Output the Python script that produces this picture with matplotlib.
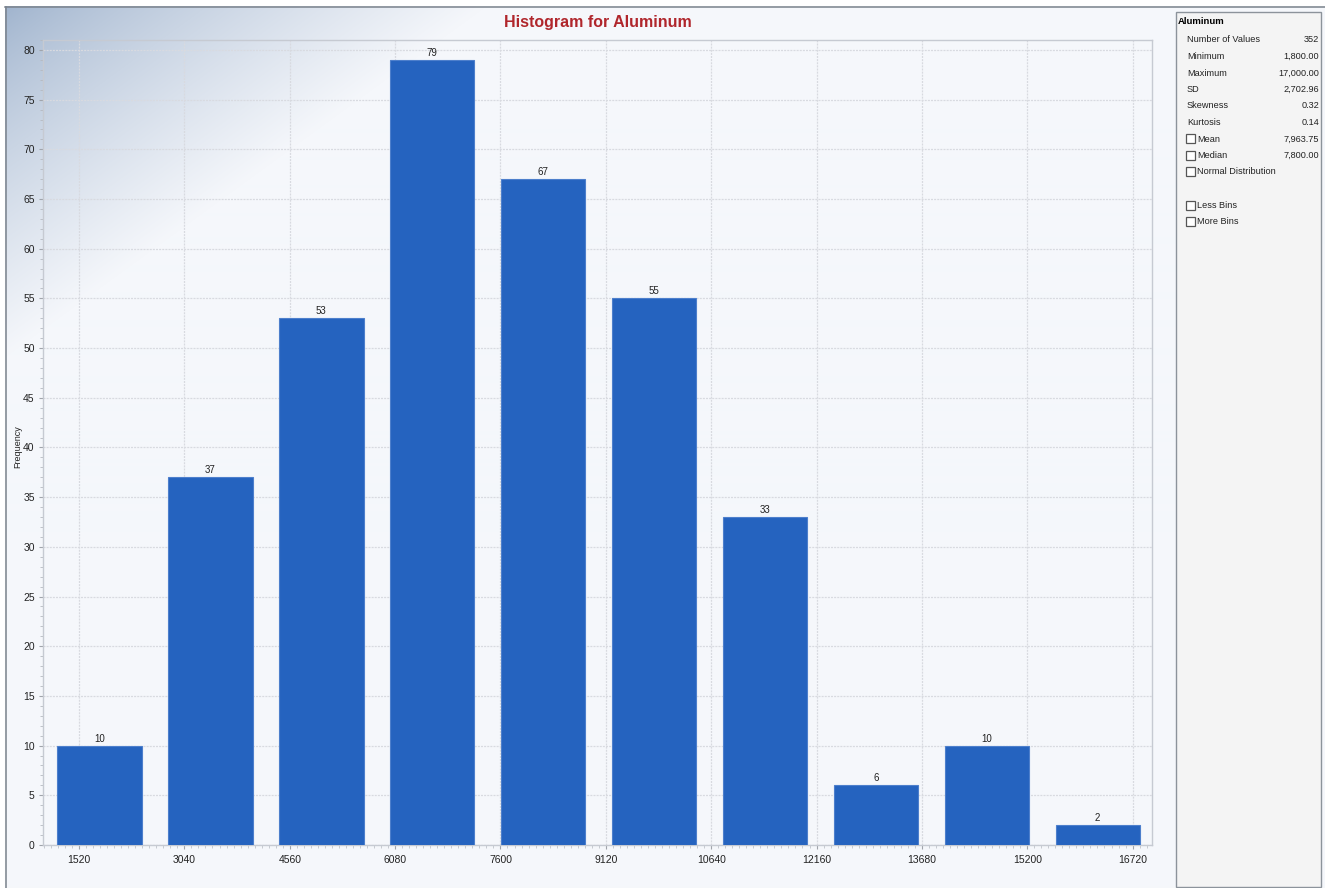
import numpy as np
import matplotlib
matplotlib.use("Agg")
import matplotlib.pyplot as plt
from matplotlib.ticker import MultipleLocator
from matplotlib.patches import Rectangle
from matplotlib.colors import to_rgb

# ---------------- data ----------------
bin_counts = [10, 37, 53, 79, 67, 55, 33, 6, 10, 2]
tick_values = [1520, 3040, 4560, 6080, 7600, 9120, 10640, 12160, 13680, 15200, 16720]
title_text = "Histogram for Aluminum"
stat_group = "Aluminum"
stat_labels = ["Number of Values", "Minimum", "Maximum", "SD", "Skewness", "Kurtosis"]
stat_values = ["352", "1,800.00", "17,000.00", "2,702.96", "0.32", "0.14"]
check_labels = ["Mean", "Median", "Normal Distribution"]
check_values = ["7,963.75", "7,800.00", ""]
bin_options = ["Less Bins", "More Bins"]

W, H = 1325, 888
NARROW = ['Liberation Sans Narrow', 'Liberation Sans', 'DejaVu Sans']
SANS = ['Liberation Sans', 'DejaVu Sans']
GRID_KW = dict(color='#d8dae0', linestyle=(0, (1.6, 0.9)), lw=0.9)

fig = plt.figure(figsize=(W / 100, H / 100), dpi=100)
fig.patch.set_facecolor('white')

# ---------------- background (pixel coords) ----------------
bg = fig.add_axes([0, 0, 1, 1], zorder=-5)
bg.set_xlim(0, W)
bg.set_ylim(H, 0)
bg.axis('off')

yy, xx = np.mgrid[0:H, 0:W].astype(float)
corner = np.array(to_rgb('#9fb3cd'))
base = np.array(to_rgb('#f5f7fb'))
t = np.clip((xx - 5) / 480 + (yy - 7) / 350, 0, 1) ** 0.8
img = corner[None, None, :] + (base - corner)[None, None, :] * t[..., None]
mask = (xx >= 5) & (yy >= 7)
img[~mask] = 1.0
bg.imshow(img, extent=(0, W, H, 0), aspect='auto', interpolation='bilinear')
# window frame lines
bg.plot([5, W], [7.5, 7.5], color='#7a828c', lw=1.1)
bg.plot([5.5, 5.5], [7, H], color='#7a828c', lw=1.1)

# right statistics panel
bg.add_patch(Rectangle((1175.5, 12.5), 145.5, 874, facecolor='#f4f4f4',
                       edgecolor='#8c939b', lw=1))

# ---------------- main chart ----------------
left, right = 43 / W, 1152 / W
bottom, top = (H - 845) / H, (H - 40) / H
ax = fig.add_axes([left, bottom, right - left, top - bottom], zorder=2)
ax.patch.set_alpha(0)

x = np.arange(len(bin_counts))
bars = ax.bar(x + 0.01, bin_counts, width=0.76, color='#2563bf',
              edgecolor='#4d7fcc', linewidth=0.8, zorder=3)
for xi, c in zip(x, bin_counts):
    ax.annotate(str(c), (xi + 0.01, c), xytext=(0, 1.5), textcoords='offset points',
                ha='center', va='bottom', fontsize=7, color='#222222',
                family=NARROW, zorder=4)

ax.set_xlim(-0.5, len(bin_counts) - 0.5)
ax.set_ylim(0, 81)
ax.set_xticks([])
ax.yaxis.set_major_locator(MultipleLocator(5))
ax.yaxis.set_minor_locator(MultipleLocator(1))
ax.tick_params(axis='y', which='major', length=3, color='#a0a4ab', pad=3,
               labelsize=7.5, labelcolor='#222222')
ax.tick_params(axis='y', which='minor', length=2.5, color='#b5b9c0')
for lab in ax.get_yticklabels():
    lab.set_family(NARROW)
ax.set_axisbelow(True)
ax.grid(axis='y', which='major', **GRID_KW)
for s in ax.spines.values():
    s.set_color('#c6cad2')
    s.set_linewidth(1)

# value axis for tick labels
ax2 = ax.twiny()
ax2.set_zorder(ax.get_zorder() - 1)
ax2.patch.set_alpha(0)
ax2.set_xlim(1000, 17000)
ax2.xaxis.set_ticks_position('bottom')
ax2.xaxis.set_label_position('bottom')
ax2.set_xticks(tick_values)
ax2.set_xticklabels([str(v) for v in tick_values])
ax2.xaxis.set_minor_locator(MultipleLocator(1520 / 15))
ax2.tick_params(axis='x', which='major', length=3, color='#a0a4ab', pad=4,
                labelsize=7.5, labelcolor='#222222')
ax2.tick_params(axis='x', which='minor', length=2.5, color='#bfc3c9')
for lab in ax2.get_xticklabels():
    lab.set_family(NARROW)
ax2.grid(axis='x', which='major', **GRID_KW)
for s in ax2.spines.values():
    s.set_visible(False)

# y label
fig.text(18 / W, 1 - 447 / H, 'Frequency', rotation=90, ha='center', va='center',
         fontsize=6.5, color='#222222', family=NARROW)

# title
fig.text(598 / W, 1 - 23 / H, title_text, ha='center', va='center',
         fontsize=11.5, fontweight='bold', color='#b0262c', family=SANS)

# ---------------- statistics panel text ----------------
def px(xp, yp):
    return xp / W, 1 - yp / H

fig.text(*px(1178, 22), stat_group, ha='left', va='center', fontsize=6.8,
         fontweight='bold', color='black', family=SANS)
row_y = 40
step = 16.5
for lab, val in zip(stat_labels, stat_values):
    fig.text(*px(1187, row_y), lab, ha='left', va='center', fontsize=6.6,
             color='#222222', family=NARROW)
    fig.text(*px(1319, row_y), val, ha='right', va='center', fontsize=6.6,
             color='#222222', family=NARROW)
    row_y += step

def checkbox(yc, label, value=""):
    bg.add_patch(Rectangle((1185.5, yc - 4.5), 9, 9, facecolor='white',
                           edgecolor='#555555', lw=0.9))
    fig.text(*px(1197, yc), label, ha='left', va='center', fontsize=6.6,
             color='#222222', family=NARROW)
    if value:
        fig.text(*px(1319, yc), value, ha='right', va='center', fontsize=6.6,
                 color='#222222', family=NARROW)

for lab, val in zip(check_labels, check_values):
    checkbox(row_y, lab, val)
    row_y += step
row_y += step
for lab in bin_options:
    checkbox(row_y, lab)
    row_y += step

fig.savefig('out.png', dpi=100)
